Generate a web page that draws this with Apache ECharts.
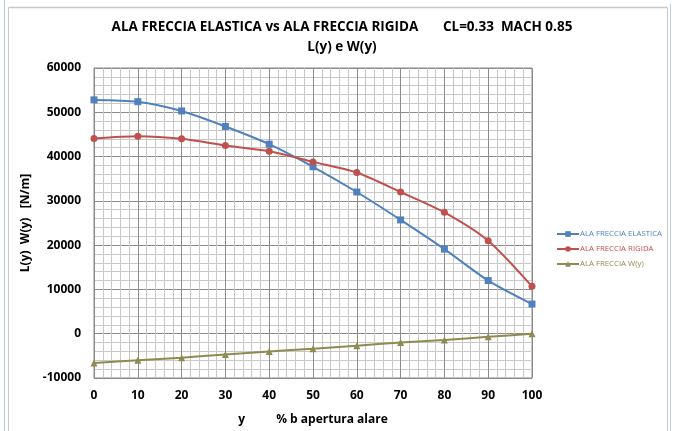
<!DOCTYPE html>
<html><head><meta charset="utf-8">
<script src="https://cdn.jsdelivr.net/npm/echarts@6/dist/echarts.min.js"></script>
<style>html,body{margin:0;padding:0;background:#fff}#c{width:675px;height:431px}</style>
</head><body><div id="c"></div>
<script>
const xValues = [0, 10, 20, 30, 40, 50, 60, 70, 80, 90, 100];
const elastica = [52800, 52400, 50300, 46800, 42800, 37700, 32000, 25700, 19100, 12000, 6700];
const rigida = [44100, 44600, 44000, 42500, 41200, 38800, 36400, 32000, 27400, 21000, 10700];
const wLoad = [-6600, -6000, -5400, -4700, -4000, -3400, -2700, -2000, -1400, -700, 0];
const seriesNames = ['ALA FRECCIA ELASTICA', 'ALA FRECCIA RIGIDA', 'ALA FRECCIA W(y)'];
const colors = ['#4F81BD', '#C0504D', '#8E8A50'];

const chart = echarts.init(document.getElementById('c'));
const font = '"Open Sans", "Liberation Sans", sans-serif';
const mk = (arr) => xValues.map((x, i) => [x, arr[i]]);
chart.setOption({
  animation: false,
  title: [{
    text: 'ALA FRECCIA ELASTICA vs ALA FRECCIA RIGIDA       CL=0.33  MACH 0.85',
    left: 337, top: 15, textAlign: 'center',
    textStyle: {fontFamily: font, fontSize: 13.5, fontWeight: 'bold', color: '#000'}
  }, {
    text: 'L(y) e W(y)', left: 337, top: 35, textAlign: 'center',
    textStyle: {fontFamily: font, fontSize: 13.5, fontWeight: 'bold', color: '#000'}
  }],
  legend: {
    orient: 'vertical', left: 551, top: 225, itemGap: 7, itemWidth: 22, itemHeight: 7,
    data: seriesNames.map((n, i) => ({name: n, textStyle: {color: colors[i]}})),
    textStyle: {fontFamily: font, fontSize: 7.8, padding: [0, 0, 0, -4]}
  },
  grid: {left: 94, right: 143, top: 68, bottom: 51, show: true, borderColor: '#888', borderWidth: 1},
  xAxis: {
    type: 'value', min: 0, max: 100, interval: 10,
    name: 'y          % b apertura alare', nameLocation: 'middle', nameGap: 36,
    nameTextStyle: {fontFamily: font, fontSize: 12, fontWeight: 'bold', color: '#000'},
    axisLine: {show: false}, axisTick: {show: false},
    axisLabel: {fontFamily: font, fontSize: 12, fontWeight: 'bold', color: '#000', margin: 12},
    splitLine: {show: true, lineStyle: {color: '#8c8c8c', width: 1}},
    minorTick: {show: false, splitNumber: 5},
    minorSplitLine: {show: true, lineStyle: {color: '#c8c8c8', width: 1}}
  },
  yAxis: {
    type: 'value', min: -10000, max: 60000, interval: 10000,
    name: 'L(y)  W(y)   [N/m]', nameLocation: 'middle', nameGap: 44,
    nameTextStyle: {fontFamily: font, fontSize: 12, fontWeight: 'bold', color: '#000'},
    axisLine: {show: false}, axisTick: {show: false},
    axisLabel: {fontFamily: font, fontSize: 12, fontWeight: 'bold', color: '#000', margin: 13,
      formatter: (v) => String(v)},
    splitLine: {show: true, lineStyle: {color: '#8c8c8c', width: 1}},
    minorTick: {show: false, splitNumber: 5},
    minorSplitLine: {show: true, lineStyle: {color: '#c8c8c8', width: 1}}
  },
  series: [
    {name: seriesNames[0], type: 'line', data: mk(elastica), smooth: 0.25, symbol: 'rect', symbolSize: 7,
     itemStyle: {color: colors[0]}, lineStyle: {width: 2, color: colors[0]}},
    {name: seriesNames[1], type: 'line', data: mk(rigida), smooth: 0.25, symbol: 'circle', symbolSize: 7,
     itemStyle: {color: colors[1]}, lineStyle: {width: 2, color: colors[1]}},
    {name: seriesNames[2], type: 'line', data: mk(wLoad), smooth: 0.25, symbol: 'triangle', symbolSize: 7,
     itemStyle: {color: colors[2]}, lineStyle: {width: 2, color: colors[2]}}
  ],
  graphic: [
    {type: 'line', shape: {x1: 4.5, y1: 0, x2: 4.5, y2: 431}, style: {stroke: '#b8cce4', lineWidth: 1}},
    {type: 'line', shape: {x1: 8.5, y1: 7.5, x2: 8.5, y2: 431}, style: {stroke: '#c8c8c8', lineWidth: 1}},
    {type: 'line', shape: {x1: 8.5, y1: 7.5, x2: 667.5, y2: 7.5}, style: {stroke: '#c8c8c8', lineWidth: 1.5}},
    {type: 'line', shape: {x1: 667.5, y1: 7.5, x2: 667.5, y2: 431}, style: {stroke: '#c8c8c8', lineWidth: 1}},
    {type: 'line', shape: {x1: 670.5, y1: 4, x2: 670.5, y2: 431}, style: {stroke: '#b8cce4', lineWidth: 1}}
  ]
});
</script></body></html>
